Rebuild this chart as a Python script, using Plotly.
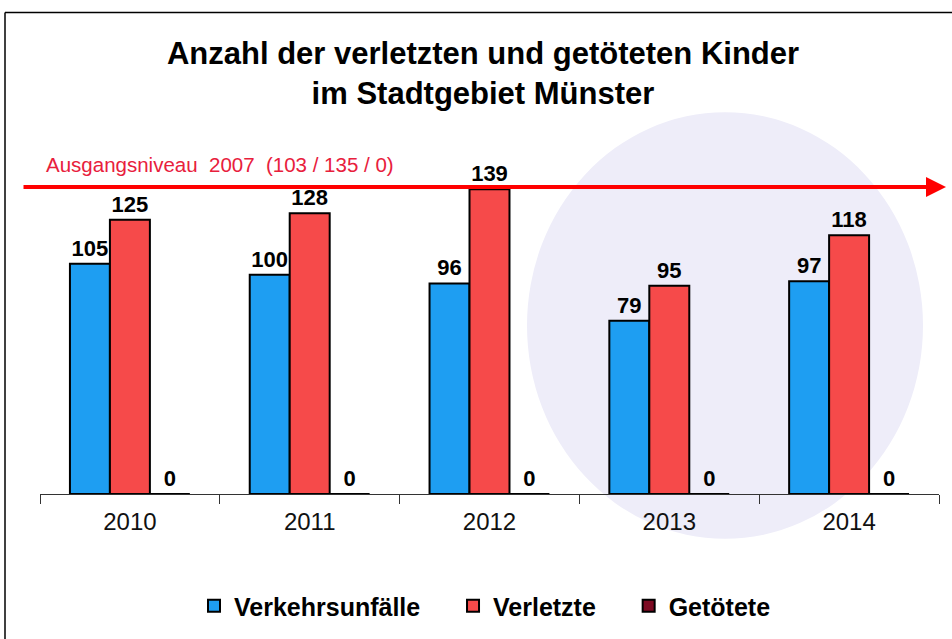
import plotly.graph_objects as go

years = ["2010", "2011", "2012", "2013", "2014"]
verkehrsunfaelle = [105, 100, 96, 79, 97]
verletzte = [125, 128, 139, 95, 118]
getoetete = [0, 0, 0, 0, 0]
baseline_2007 = (103, 135, 0)

FONT = "Liberation Sans, Arial, sans-serif"
PAD = "&nbsp;" * 4

fig = go.Figure()
series = [
    ("Verkehrsunfälle", verkehrsunfaelle, "#1e9ef2"),
    ("Verletzte", verletzte, "#f64a4a"),
    ("Getötete", getoetete, "#7d0a22"),
]
for i, (name, vals, col) in enumerate(series):
    fig.add_trace(go.Bar(
        name="<b>" + name + "</b>" + (PAD if i < len(series) - 1 else ""),
        x=years, y=vals,
        marker=dict(color=col, line=dict(color="black", width=2)),
        text=vals, texttemplate="<b>%{text}</b>", textposition="outside",
        textfont=dict(family=FONT, size=22, color="black"),
        cliponaxis=False,
    ))

W, H = 952, 639
L, R, T, B = 40, 13, 165, 144
pw = W - L - R
ph = H - T - B
BASE = H - B  # pixel y of zero line

def px_x(px):
    return (px - L) / pw

def px_y(py):
    return (BASE - py) / ph

fig.update_layout(
    width=W, height=H,
    margin=dict(l=L, r=R, t=T, b=B),
    paper_bgcolor="white", plot_bgcolor="rgba(0,0,0,0)",
    barmode="group", bargap=0.333, bargroupgap=0,
    font=dict(family=FONT, color="black"),
    title=dict(
        text="<b>Anzahl der verletzten und getöteten Kinder<br>im Stadtgebiet Münster</b>",
        font=dict(family=FONT, size=31, color="black"),
        x=px_x(483), xref="paper", xanchor="center",
        y=1 - 64 / H, yref="container", yanchor="top",
    ),
    xaxis=dict(
        showline=True, linecolor="#333", linewidth=1,
        ticks="outside", tickson="boundaries", ticklen=9, tickcolor="#333",
        ticklabelstandoff=6,
        tickfont=dict(family=FONT, size=24, color="#111"),
        showgrid=False, zeroline=False,
    ),
    yaxis=dict(range=[0, 150], visible=False, showgrid=False, zeroline=False),
    legend=dict(
        orientation="h", x=px_x(485), xanchor="center",
        y=px_y(606), yanchor="middle",
        font=dict(family=FONT, size=25, color="black"),
        traceorder="normal", bgcolor="rgba(0,0,0,0)",
    ),
    showlegend=True,
)

# faint watermark circle
fig.add_shape(type="circle", xref="paper", yref="paper", layer="below",
              x0=px_x(527), x1=px_x(923), y0=px_y(540), y1=px_y(112),
              fillcolor="#eeedf9", line=dict(width=0))

# frame border
fig.add_shape(type="line", xref="paper", yref="paper",
              x0=px_x(5), x1=px_x(5), y0=px_y(660), y1=px_y(12),
              line=dict(color="black", width=1.5))
fig.add_shape(type="line", xref="paper", yref="paper",
              x0=px_x(5), x1=px_x(960), y0=px_y(12), y1=px_y(12),
              line=dict(color="black", width=1.5))

# baseline arrow (Ausgangsniveau 2007)
fig.add_annotation(
    x=px_x(946), y=140, xref="paper", yref="y",
    ax=22 - 946, ay=0, axref="pixel", ayref="pixel",
    text="", showarrow=True, arrowhead=2, arrowsize=1, arrowwidth=4,
    arrowcolor="#ff0000",
)
fig.add_annotation(
    x=px_x(44), y=px_y(164), xref="paper", yref="paper",
    xanchor="left", yanchor="middle",
    text="Ausgangsniveau  2007  (%d / %d / %d)" % baseline_2007,
    showarrow=False, font=dict(family=FONT, size=20.5, color="#e8203c"),
)

fig.write_html("out.html", config={"displayModeBar": False},
               post_script="document.body.style.margin='0';")
